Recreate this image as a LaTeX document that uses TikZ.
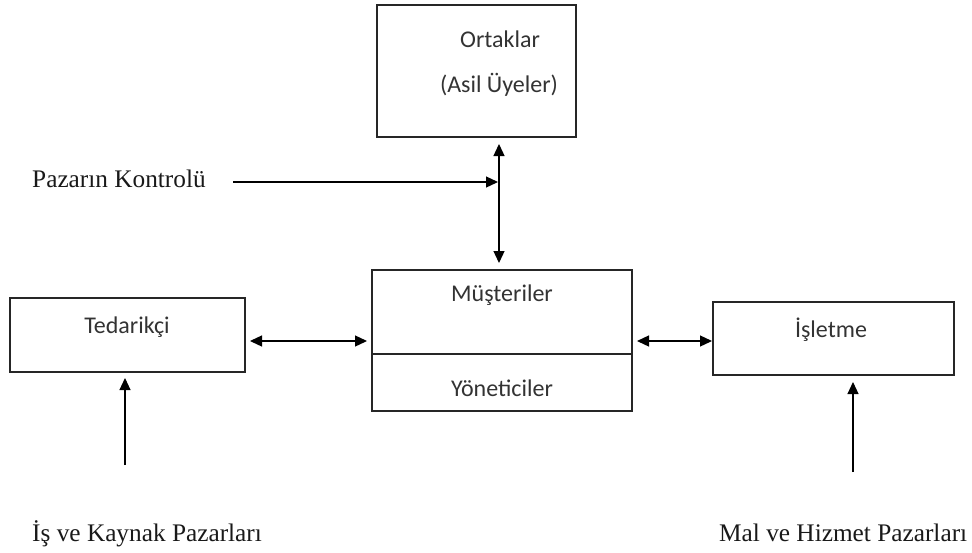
\documentclass[tikz,border=0pt]{standalone}
\usepackage{fontspec}
\setmainfont{Liberation Serif}
\newfontfamily\boxfont{Carlito}
\usetikzlibrary{arrows.meta}
\begin{document}
\begin{tikzpicture}[x=1pt,y=-1pt,
  box/.style={draw=black!85, line width=1.3pt, anchor=north west, inner sep=0pt, outer sep=0pt},
  btxt/.style={font=\boxfont\fontsize{24}{28}\selectfont, text=black!80, anchor=base, inner sep=0pt},
  stxt/.style={font=\fontsize{25.3}{30}\selectfont, text=black!90, anchor=base west, inner sep=0pt},
  conn/.style={line width=1.3pt, -{Triangle[length=12pt,width=11pt]}},
  dconn/.style={line width=1.3pt, {Triangle[length=12pt,width=11pt]}-{Triangle[length=12pt,width=11pt]}}
]
\useasboundingbox (0,0) rectangle (972,552);
% boxes
\node[box, minimum width=199pt, minimum height=132pt] (ort) at (377,5) {};
\node[box, minimum width=260pt, minimum height=141pt] (mid) at (372,270) {};
\node[box, minimum width=235pt, minimum height=74pt] (ted) at (10,298) {};
\node[box, minimum width=241pt, minimum height=73pt] (isl) at (713,302) {};
\draw[line width=1.3pt, draw=black!85] (mid.west |- 0,354) -- (mid.east |- 0,354);
% box texts
\node[btxt] (ortt) at (500,47) {Ortaklar};
\node[btxt] (asil) at (499,92) {(Asil Üyeler)};
\node[btxt] (mus) at (502,301) {Müşteriler};
\node[btxt] (yon) at (502,396) {Yöneticiler};
\node[btxt] (tedt) at (127,333) {Tedarikçi};
\node[btxt] (islt) at (831,337) {İşletme};
% outside texts
\node[stxt] (pk) at (32,187) {Pazarın Kontrolü};
\node[stxt] (ik) at (32,541) {İş ve Kaynak Pazarları};
\node[stxt] (mh) at (719,541) {Mal ve Hizmet Pazarları};
% coordinates
\coordinate (vtop) at (499,137);
\coordinate (vbot) at (499,270);
\coordinate (pkstart) at (233,182);
\coordinate (pkend) at (498,182);
\coordinate (lup) at (125,465);
\coordinate (rup) at (853,472);
% connectors
\draw[dconn, shorten <=7pt, shorten >=7pt] (ort.south -| vtop) -- (mid.north -| vbot);
\draw[conn] (pkstart) -- (pkend);
\draw[dconn, shorten <=5pt, shorten >=5pt] (ted.east |- 0,341) -- (mid.west |- 0,341);
\draw[dconn, shorten <=5pt, shorten >=1pt] (mid.east |- 0,341) -- (isl.west |- 0,341);
\draw[conn, line width=1.1pt, shorten >=6pt] (lup) -- (ted.south -| lup);
\draw[conn, line width=1.1pt, shorten >=7pt] (rup) -- (isl.south -| rup);
\end{tikzpicture}
\end{document}
